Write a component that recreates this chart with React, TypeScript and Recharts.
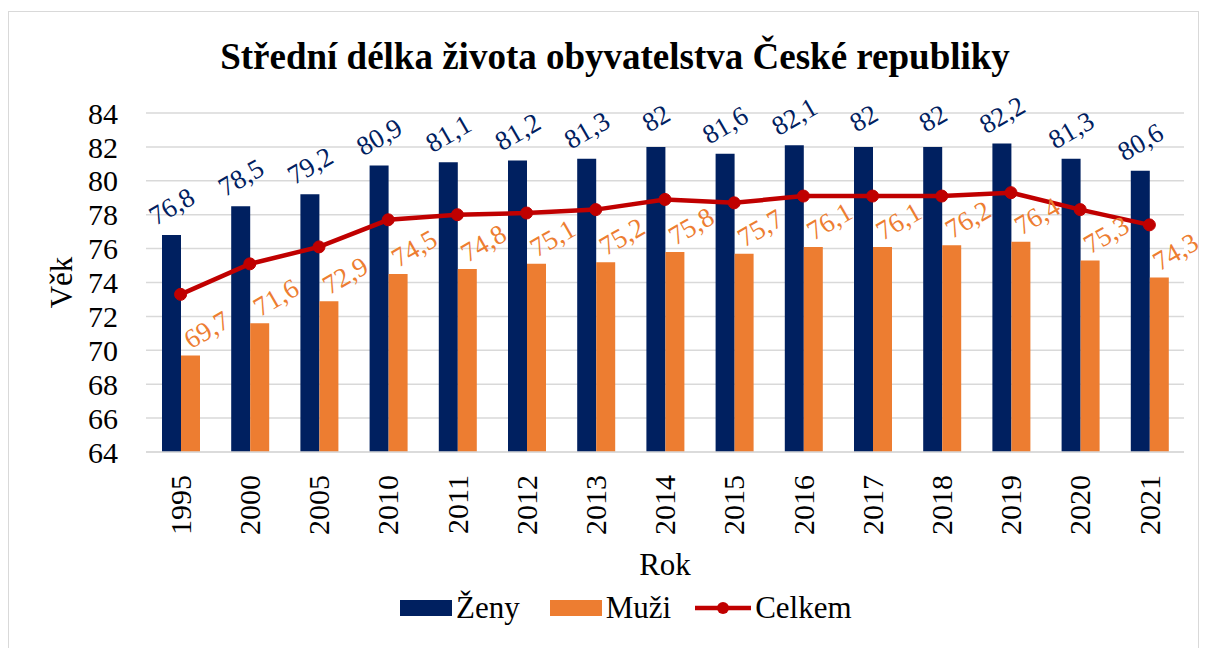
import {
  ComposedChart,
  Bar,
  Line,
  XAxis,
  YAxis,
  CartesianGrid,
  Legend,
  LabelList,
} from 'recharts';

const years = ['1995', '2000', '2005', '2010', '2011', '2012', '2013', '2014', '2015', '2016', '2017', '2018', '2019', '2020', '2021'];
const zeny = [76.8, 78.5, 79.2, 80.9, 81.1, 81.2, 81.3, 82, 81.6, 82.1, 82, 82, 82.2, 81.3, 80.6];
const muzi = [69.7, 71.6, 72.9, 74.5, 74.8, 75.1, 75.2, 75.8, 75.7, 76.1, 76.1, 76.2, 76.4, 75.3, 74.3];
const celkem = [73.3, 75.1, 76.1, 77.7, 78.0, 78.1, 78.3, 78.9, 78.7, 79.1, 79.1, 79.1, 79.3, 78.3, 77.4];
const yTicks = [64, 66, 68, 70, 72, 74, 76, 78, 80, 82, 84];
const legendOrder = ['Ženy', 'Muži', 'Celkem'];

const NAVY = '#002060';
const ORANGE = '#ED7D31';
const RED = '#C00000';
const GRID = '#D9D9D9';
const FONT = "'Liberation Serif', 'Times New Roman', serif";

const data = years.map((year, i) => ({
  year,
  zeny: zeny[i],
  muzi: muzi[i],
  celkem: celkem[i],
}));

const fmt = (v: any) => String(v).replace('.', ',');

// rotated value label above a bar
const barLabel = (color: string, dx: number, dy: number) => (props: any) => {
  const vb = props.viewBox || {};
  const x = props.x ?? vb.x;
  const y = props.y ?? vb.y;
  const w = props.width ?? vb.width;
  const cx = x + w / 2 + dx;
  const cy = y + dy;
  return (
    <text
      x={cx}
      y={cy}
      dy="0.35em"
      transform={`rotate(-30 ${cx} ${cy})`}
      textAnchor="middle"
      fill={color}
      style={{ fontSize: 27, fontFamily: FONT }}
    >
      {fmt(props.value)}
    </text>
  );
};

const YearTick = (props: any) => {
  const { x, y, payload } = props;
  const ty = y + 21;
  return (
    <text
      x={x}
      y={ty}
      dy="0.34em"
      transform={`rotate(-90 ${x} ${ty})`}
      textAnchor="end"
      fill="#000"
      style={{ fontSize: 30, fontFamily: FONT }}
    >
      {payload.value}
    </text>
  );
};

const LegendBox = (props: any) => {
  const payload = [...(props.payload || [])].sort(
    (a: any, b: any) => legendOrder.indexOf(a.value) - legendOrder.indexOf(b.value)
  );
  return (
    <div style={{ display: 'flex', alignItems: 'center', height: 36, paddingLeft: 354, fontFamily: FONT, fontSize: 31, color: '#000' }}>
      {payload.map((p: any, i: number) => (
        <div key={i} style={{ display: 'flex', alignItems: 'center', marginRight: i === 0 ? 30 : 24 }}>
          {p.type === 'line' ? (
            <svg width={56} height={16} style={{ marginRight: 4 }}>
              <line x1={0} y1={8} x2={56} y2={8} stroke={RED} strokeWidth={4.5} />
              <circle cx={28} cy={8} r={6} fill={RED} />
            </svg>
          ) : (
            <div style={{ width: 52, height: 16, background: p.color, marginRight: 4 }} />
          )}
          <span>{p.value}</span>
        </div>
      ))}
    </div>
  );
};

export default function App() {
  return (
    <div style={{ position: 'absolute', left: 0, top: 0, width: 1208, height: 648, background: '#fff', overflow: 'hidden', fontFamily: FONT }}>
      <div
        style={{
          position: 'absolute',
          left: 8,
          top: 11,
          width: 1191,
          height: 660,
          border: `1px solid ${GRID}`,
          boxSizing: 'border-box',
        }}
      />
      <div
        style={{
          position: 'absolute',
          left: 0,
          top: 37,
          width: 1230,
          textAlign: 'center',
          fontWeight: 'bold',
          fontSize: 37,
          lineHeight: '40px',
          color: '#000',
        }}
      >
        Střední délka života obyvatelstva České republiky
      </div>
      <div style={{ position: 'absolute', left: 0, top: 0 }}>
        <ComposedChart
          width={1208}
          height={648}
          data={data}
          margin={{ top: 113, right: 24, bottom: 22, left: 46 }}
          barGap={0}
          barSize={19}
          style={{ fontFamily: FONT }}
        >
          <CartesianGrid vertical={false} stroke={GRID} strokeWidth={1.5} />
          <XAxis
            dataKey="year"
            interval={0}
            height={138}
            tick={<YearTick />}
            tickLine={false}
            tickSize={0}
            axisLine={{ stroke: GRID, strokeWidth: 1.5 }}
            label={(p: any) => {
              const vb = p.viewBox;
              return (
                <text x={vb.x + vb.width / 2} y={vb.y + 123} textAnchor="middle" fill="#000" style={{ fontSize: 31, fontFamily: FONT }}>
                  Rok
                </text>
              );
            }}
          />
          <YAxis
            domain={[64, 84]}
            ticks={yTicks}
            interval={0}
            width={100}
            tickLine={false}
            axisLine={false}
            tickSize={0}
            tickMargin={28}
            tick={{ fill: '#000', style: { fontSize: 30, fontFamily: FONT } }}
            label={(p: any) => {
              const vb = p.viewBox;
              const x = vb.x + 26;
              const y = vb.y + vb.height / 2;
              return (
                <text x={x} y={y} transform={`rotate(-90 ${x} ${y})`} textAnchor="middle" fill="#000" style={{ fontSize: 31, fontFamily: FONT }}>
                  Věk
                </text>
              );
            }}
          />
          <Legend verticalAlign="bottom" content={<LegendBox />} />
          <Bar dataKey="zeny" name="Ženy" fill={NAVY} isAnimationActive={false}>
            <LabelList dataKey="zeny" content={barLabel(NAVY, 0, -29)} />
          </Bar>
          <Bar dataKey="muzi" name="Muži" fill={ORANGE} isAnimationActive={false}>
            <LabelList dataKey="muzi" content={barLabel(ORANGE, 16, -26)} />
          </Bar>
          <Line
            dataKey="celkem"
            name="Celkem"
            stroke={RED}
            strokeWidth={4.5}
            dot={{ r: 6, fill: RED, stroke: RED, strokeWidth: 1 }}
            isAnimationActive={false}
          />
        </ComposedChart>
      </div>
    </div>
  );
}
